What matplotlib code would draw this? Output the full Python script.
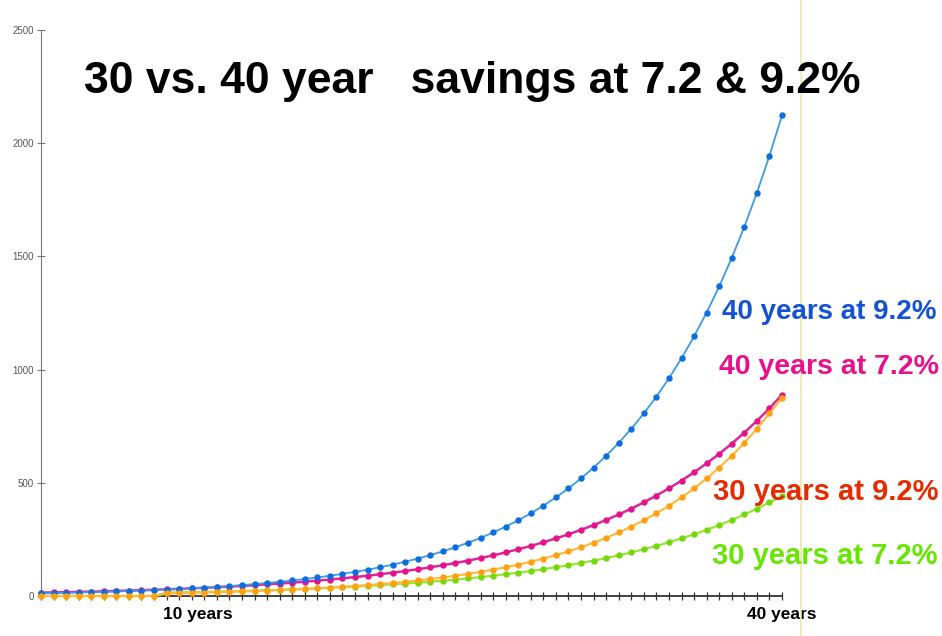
import matplotlib
matplotlib.use("Agg")
import matplotlib.pyplot as plt
from matplotlib.lines import Line2D

# step index along the x axis (one dot per step)
steps = list(range(60))

# 40 years at 9.2%
blue_vals = [11.8, 12.9, 14.1, 15.4, 16.8, 18.3, 20.0, 21.8, 23.9, 26.1,
             28.5, 31.1, 33.9, 37.0, 40.5, 44.2, 48.2, 52.7, 57.5, 62.8,
             68.6, 74.9, 81.8, 89.3, 97.6, 106.5, 116.3, 127.0, 138.7, 151.5,
             165.4, 180.6, 197.2, 215.4, 235.2, 256.9, 280.5, 306.3, 334.5, 365.2,
             398.8, 435.5, 475.6, 519.3, 567.1, 619.3, 676.3, 738.5, 806.4, 880.6,
             961.6, 1050.1, 1146.7, 1252.2, 1367.4, 1493.2, 1630.6, 1780.6, 1944.4, 2123.3]

# 40 years at 7.2%
pink_vals = [14.7, 15.8, 16.9, 18.1, 19.4, 20.8, 22.3, 23.9, 25.6, 27.5,
             29.5, 31.6, 33.9, 36.3, 38.9, 41.7, 44.7, 47.9, 51.4, 55.1,
             59.0, 63.3, 67.9, 72.7, 78.0, 83.6, 89.6, 96.1, 103.0, 110.4,
             118.3, 126.9, 136.0, 145.8, 156.3, 167.5, 179.6, 192.5, 206.4, 221.3,
             237.2, 254.3, 272.6, 292.2, 313.2, 335.8, 360.0, 385.9, 413.7, 443.5,
             475.4, 509.6, 546.3, 585.7, 627.8, 673.0, 721.5, 773.4, 829.1, 888.8]

# 30 years at 9.2% (starts ten steps later)
orange_vals = [0, 0, 0, 0, 0, 0, 0, 0, 0, 0,
               11.8, 12.9, 14.1, 15.4, 16.8, 18.3, 20.0, 21.8, 23.9, 26.1,
               28.5, 31.1, 33.9, 37.0, 40.5, 44.2, 48.2, 52.7, 57.5, 62.8,
               68.6, 74.9, 81.8, 89.3, 97.6, 106.5, 116.3, 127.0, 138.7, 151.5,
               165.4, 180.6, 197.2, 215.4, 235.2, 256.9, 280.5, 306.3, 334.5, 365.2,
               398.8, 435.5, 475.6, 519.3, 567.1, 619.3, 676.3, 738.5, 806.4, 875.0]

# 30 years at 7.2%
green_vals = [0, 0, 0, 0, 0, 0, 0, 0, 0, 0,
              14.7, 15.8, 16.9, 18.1, 19.4, 20.8, 22.3, 23.9, 25.6, 27.5,
              29.5, 31.6, 33.9, 36.3, 38.9, 41.7, 44.7, 47.9, 51.4, 55.1,
              59.0, 63.3, 67.9, 72.7, 78.0, 83.6, 89.6, 96.1, 103.0, 110.4,
              118.3, 126.9, 136.0, 145.8, 156.3, 167.5, 179.6, 192.5, 206.4, 221.3,
              237.2, 254.3, 272.6, 292.2, 313.2, 335.8, 360.0, 385.9, 413.7, 440.0]

y_ticks = [0, 500, 1000, 1500, 2000, 2500]
year_labels = ["10 years", "40 years"]
year_label_pos = [12.5, 59]

series_labels = ["40 years at 9.2%", "40 years at 7.2%", "30 years at 9.2%", "30 years at 7.2%"]

plt.rcParams['font.family'] = ['Liberation Sans', 'DejaVu Sans']

W, H = 942, 636
fig = plt.figure(figsize=(W / 100, H / 100), dpi=100)
fig.patch.set_facecolor("white")

# axes placed in pixel terms: x axis from px 41 to 782, y from 596 (0) up to 30 (2500)
ax = fig.add_axes([41 / W, (H - 596) / H, (782 - 41) / W, (596 - 30) / H])
ax.set_xlim(0, 59)
ax.set_ylim(0, 2500)

ms = 3.6
ax.plot(steps, green_vals, color="#96e632", lw=1.6, marker="o", ms=ms,
        mfc="#74d80a", mec="#74d80a", clip_on=False, zorder=3)
ax.plot(steps, pink_vals, color="#e0259a", lw=1.8, marker="o", ms=ms,
        mfc="#e5128a", mec="#e5128a", clip_on=False, zorder=4)
ax.plot(steps, blue_vals, color="#3c9be6", lw=1.3, marker="o", ms=ms,
        mfc="#0a6ee0", mec="#0a6ee0", clip_on=False, zorder=5)
ax.plot(steps, orange_vals, color="#ffbb40", lw=1.6, marker="o", ms=ms,
        mfc="#ffa010", mec="#ffa010", clip_on=False, zorder=6)

for s in ["top", "right"]:
    ax.spines[s].set_visible(False)
ax.spines["left"].set_color("#777777")
ax.spines["bottom"].set_color("#333333")
ax.spines["bottom"].set_linewidth(1.3)

ax.set_yticks(y_ticks)
ax.set_yticklabels([str(v) for v in y_ticks])
ax.tick_params(axis="y", direction="inout", length=6, width=0.8, colors="#777777",
               labelsize=7, labelcolor="#555555", pad=2)
ax.set_xticks(steps)
ax.set_xticklabels([])
ax.tick_params(axis="x", direction="inout", length=6, width=0.9, colors="#333333")

for lab, pos in zip(year_labels, year_label_pos):
    ax.text(pos, -0.033, lab, transform=ax.get_xaxis_transform(), ha="center", va="center",
            fontsize=12.5, fontweight="bold", color="#000000")

# pale vertical marker line on the right
fig.add_artist(Line2D([801 / W, 801 / W], [0, 1], color="#ece6b0", lw=1.2))

fig.text(472 / W, 1 - 81 / H, "30 vs. 40 year   savings at 7.2 & 9.2%",
         ha="center", va="center", fontsize=32, fontweight="bold", color="#000000")

label_colors = ["#1452d4", "#e8108c", "#e82a00", "#66e600"]
label_x = [829, 829, 826, 825]
label_y = [312, 367, 492, 556]
label_size = [20, 20.5, 21, 21]
for txt, c, lx, ly, fs in zip(series_labels, label_colors, label_x, label_y, label_size):
    fig.text(lx / W, 1 - ly / H, txt, ha="center", va="center", fontsize=fs,
             fontweight="bold", color=c, zorder=10)

fig.savefig("out.png", dpi=100, facecolor="white")
